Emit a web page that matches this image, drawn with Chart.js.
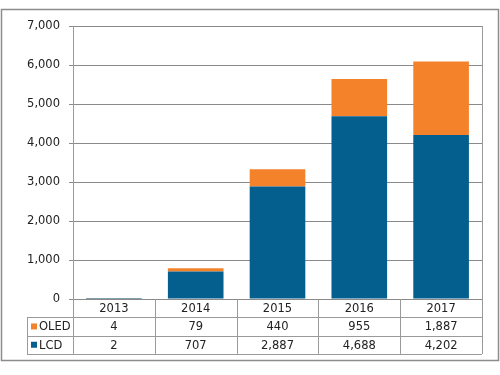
<!DOCTYPE html>
<html>
<head>
<meta charset="utf-8">
<script src="https://cdn.jsdelivr.net/npm/chart.js@4"></script>
<style>
  html, body { margin: 0; padding: 0; background: #fff; }
  #wrap { width: 500px; height: 375px; }
</style>
</head>
<body>
<div id="wrap"><canvas id="panelChart"></canvas></div>
<script>
// Display panel shipments by year
const years = ['2013', '2014', '2015', '2016', '2017'];
const oledValues = [4, 79, 440, 955, 1887];
const lcdValues = [2, 707, 2887, 4688, 4202];
const yTicks = [0, 1000, 2000, 3000, 4000, 5000, 6000, 7000];

const blue = '#045F8F';
const orange = '#F3822B';
const fontFamily = 'Verdana, "DejaVu Sans", sans-serif';

// Outer frame plus the data table under the bars
const tablePlugin = {
    id: 'dataTable',
    beforeDraw(chart) {
        const ctx = chart.ctx;
        ctx.save();
        ctx.fillStyle = '#fff';
        ctx.fillRect(0, 0, chart.width, chart.height);
        ctx.restore();
    },
    afterDraw(chart) {
        const ctx = chart.ctx;
        const area = chart.chartArea;
        const x = chart.scales.x;
        const colW = (area.right - area.left) / years.length;
        const rowH = 18.3;
        const top = area.bottom;
        const legendLeft = 27;

        ctx.save();
        // frame
        ctx.strokeStyle = '#8c8c8c';
        ctx.lineWidth = 1.5;
        ctx.strokeRect(1.5, 9.5, 497, 351);

        ctx.strokeStyle = '#9a9a9a';
        ctx.lineWidth = 1;
        // right edge of plot and table
        ctx.beginPath();
        ctx.moveTo(area.right + 0.5, area.top);
        ctx.lineTo(area.right + 0.5, top + rowH * 3);
        // column separators
        for (let i = 0; i <= years.length; i++) {
            const cx = Math.round(area.left + colW * i) + 0.5;
            ctx.moveTo(cx, top);
            ctx.lineTo(cx, top + rowH * 3);
        }
        // row lines
        for (let r = 1; r <= 3; r++) {
            const ry = Math.round(top + rowH * r) + 0.5;
            ctx.moveTo(legendLeft, ry);
            ctx.lineTo(area.right, ry);
        }
        // legend column left edge
        ctx.moveTo(legendLeft + 0.5, Math.round(top + rowH) + 0.5);
        ctx.lineTo(legendLeft + 0.5, Math.round(top + rowH * 3) + 0.5);
        ctx.stroke();

        ctx.fillStyle = '#222';
        ctx.font = '11.5px ' + fontFamily;
        ctx.textAlign = 'center';
        ctx.textBaseline = 'middle';
        const rows = [years, oledValues.map(v => v.toLocaleString('en-US')), lcdValues.map(v => v.toLocaleString('en-US'))];
        rows.forEach((row, r) => {
            row.forEach((txt, i) => {
                ctx.fillText(txt, x.getPixelForValue(i), top + rowH * r + rowH / 2 + 1);
            });
        });

        // legend keys
        const keys = [['OLED', orange], ['LCD', blue]];
        ctx.textAlign = 'left';
        keys.forEach(([name, color], k) => {
            const cy = top + rowH * (k + 1) + rowH / 2;
            ctx.fillStyle = color;
            ctx.fillRect(31, cy - 3, 6, 6);
            ctx.fillStyle = '#222';
            ctx.fillText(name, 39, cy + 1);
        });
        ctx.restore();
    }
};

new Chart(document.getElementById('panelChart'), {
    type: 'bar',
    data: {
        labels: years,
        datasets: [
            {
                label: 'LCD',
                data: lcdValues,
                backgroundColor: blue,
                barPercentage: 0.68,
                categoryPercentage: 1
            },
            {
                label: 'OLED',
                data: oledValues,
                backgroundColor: orange,
                barPercentage: 0.68,
                categoryPercentage: 1
            }
        ]
    },
    options: {
        responsive: true,
        maintainAspectRatio: false,
        animation: false,
        layout: {
            padding: { left: 0, right: 18, top: 26, bottom: 76 }
        },
        plugins: {
            legend: { display: false },
            tooltip: { enabled: false }
        },
        scales: {
            x: {
                stacked: true,
                display: false
            },
            y: {
                stacked: true,
                min: 0,
                max: 7000,
                afterFit(scale) { scale.width = 73; },
                afterBuildTicks(scale) { scale.ticks = yTicks.map(v => ({ value: v })); },
                border: { color: '#9a9a9a' },
                grid: {
                    color: '#8a8a8a',
                    tickLength: 4,
                    tickColor: '#8a8a8a'
                },
                ticks: {
                    color: '#222',
                    padding: 9,
                    font: { family: fontFamily, size: 11.5 },
                    callback: v => v.toLocaleString('en-US')
                }
            }
        }
    },
    plugins: [tablePlugin]
});
</script>
</body>
</html>
